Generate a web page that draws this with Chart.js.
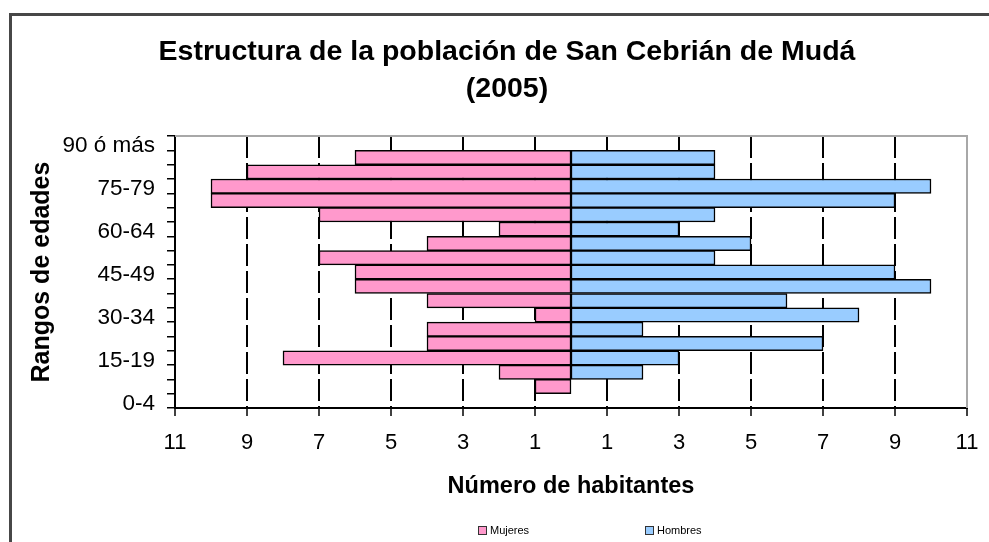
<!DOCTYPE html>
<html><head><meta charset="utf-8">
<script src="https://cdn.jsdelivr.net/npm/chart.js@4"></script>
<style>
html,body{margin:0;padding:0;background:#fff;overflow:hidden;width:989px;height:542px;}
#frame{position:absolute;left:9px;top:13px;width:1100px;height:700px;border-top:3px solid #474747;border-left:3px solid #474747;box-sizing:border-box;}
#chart{position:absolute;left:0;top:0;}
#legend{position:absolute;top:523px;left:478px;display:flex;font:11px "Liberation Sans",Arial,sans-serif;color:#000;}
#legend .item{display:flex;align-items:center;width:167px;height:14px;}
#legend .box{width:7px;height:7px;border:1px solid #333;margin-right:3px;}
</style></head><body>
<div id="frame"></div>
<canvas id="chart" width="1004" height="542"></canvas>
<div id="legend"></div>
<script>
// Age ranges (ascending)
const categories = ['0-4','5-9','10-14','15-19','20-24','25-29','30-34','35-39','40-44','45-49',
  '50-54','55-59','60-64','65-69','70-74','75-79','80-84','85-89','90 ó más'];
const mujeres = [0,1,2,8,4,4,1,4,6,6,7,4,2,7,10,10,9,6,0];
const hombres = [0,0,2,3,7,2,8,6,10,9,4,5,3,4,9,10,4,4,0];
const xTickValues = [-11,-9,-7,-5,-3,-1,1,3,5,7,9,11];
const yTickLabels = ['0-4','15-19','30-34','45-49','60-64','75-79','90 ó más'];
const seriesNames = ['Mujeres','Hombres'];
const seriesColors = ['#FF99CC','#99CCFF'];

Chart.defaults.font.family = '"Liberation Sans", Arial, sans-serif';
Chart.defaults.color = '#000';

const plotBorder = {
  id: 'plotBorder',
  beforeDatasetsDraw(chart) {
    const {ctx, chartArea: a} = chart;
    ctx.save();
    ctx.strokeStyle = '#a8a8a8';
    ctx.lineWidth = 2;
    ctx.beginPath();
    ctx.moveTo(a.left, a.top);
    ctx.lineTo(a.right, a.top);
    ctx.lineTo(a.right, a.bottom);
    ctx.stroke();
    ctx.restore();
  }
};

const chart = new Chart(document.getElementById('chart'), {
  type: 'bar',
  data: {
    labels: categories,
    datasets: [
      {label: seriesNames[0], data: mujeres.map(v => -v), backgroundColor: seriesColors[0],
       borderColor: '#000', borderWidth: 1.5, borderSkipped: false, barPercentage: 1, categoryPercentage: 1},
      {label: seriesNames[1], data: hombres, backgroundColor: seriesColors[1],
       borderColor: '#000', borderWidth: 1.5, borderSkipped: false, barPercentage: 1, categoryPercentage: 1}
    ]
  },
  options: {
    indexAxis: 'y',
    responsive: false,
    animation: false,
    layout: {padding: {left: 10, right: 0, top: 0, bottom: 0}},
    plugins: {
      legend: {display: false},
      tooltip: {enabled: false},
      title: {
        display: true,
        text: ['Estructura de la población de San Cebrián de Mudá', '(2005)'],
        font: {size: 28.5, weight: 'bold', lineHeight: 1.3},
        color: '#000',
        padding: {top: 34, bottom: 28}
      }
    },
    scales: {
      x: {
        type: 'linear', stacked: true, min: -11, max: 11,
        afterBuildTicks: s => { s.ticks = xTickValues.map(v => ({value: v})); },
        afterFit: s => { s.height = 134; },
        ticks: {callback: v => String(Math.abs(v)), font: {size: 22}, padding: 14, autoSkip: false, maxRotation: 0},
        grid: {
          color: c => (c.tick && Math.abs(c.tick.value) === 11) ? 'rgba(0,0,0,0)' : '#000',
          lineWidth: 2, tickColor: '#000', tickBorderDash: [], tickLength: 8, tickWidth: 1.5
        },
        border: {display: true, color: '#000', width: 2, dash: [22, 5]},
        title: {display: true, text: 'Número de habitantes', font: {size: 23.5, weight: 'bold'}, padding: {top: 0, bottom: 41}}
      },
      y: {
        type: 'category', stacked: true, reverse: true, offset: true,
        afterFit: s => { s.width = 165; },
        ticks: {
          autoSkip: false, font: {size: 22.5}, padding: 12, labelOffset: 3,
          callback: function(v) { const l = this.getLabelForValue(v); return yTickLabels.includes(l) ? l : ''; }
        },
        grid: {offset: true, drawOnChartArea: false, color: '#000', tickLength: 8, lineWidth: 1.5},
        border: {display: true, color: '#000', width: 2},
        title: {display: true, text: 'Rangos de edades', font: {size: 25, weight: 'bold'}, padding: {top: 17, bottom: 0}}
      },
      yRight: {
        type: 'linear', position: 'right', display: true,
        grid: {display: false}, ticks: {display: false}, border: {display: false},
        afterFit: s => { s.width = 37; }
      }
    }
  },
  plugins: [plotBorder]
});

const legendEl = document.getElementById('legend');
chart.data.datasets.forEach(ds => {
  const item = document.createElement('div'); item.className = 'item';
  const box = document.createElement('span'); box.className = 'box'; box.style.background = ds.backgroundColor;
  const txt = document.createElement('span'); txt.textContent = ds.label;
  item.appendChild(box); item.appendChild(txt); legendEl.appendChild(item);
});
</script>
</body></html>
